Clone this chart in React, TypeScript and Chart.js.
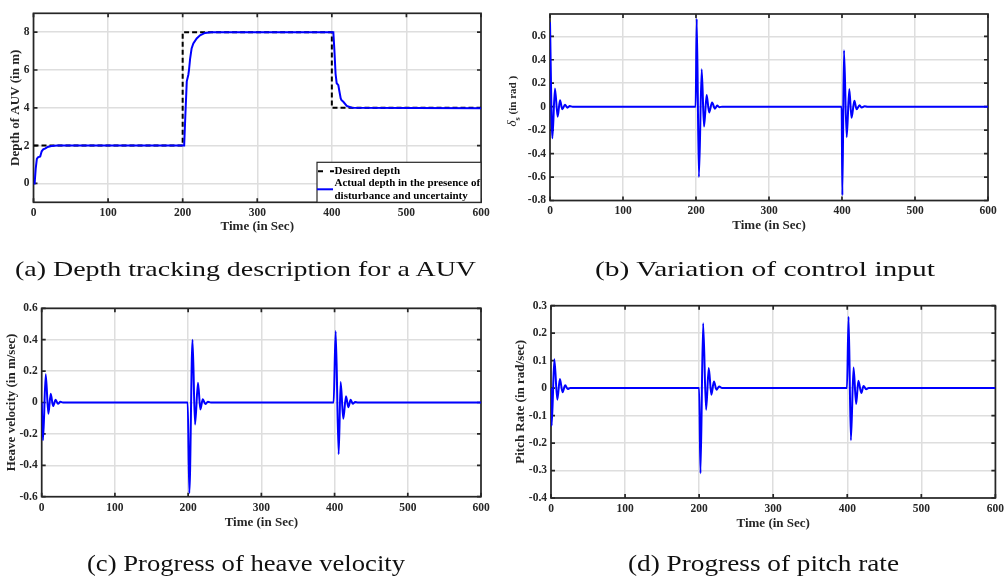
import React, { useEffect, useRef } from 'react';
import { Chart, registerables } from 'chart.js';

Chart.register(...registerables);

// ---------- data ----------
const timeTicks = [0, 100, 200, 300, 400, 500, 600];

const desiredTime = [0, 200, 200, 400, 400, 600];
const desiredDepth = [2, 2, 8, 8, 4, 4];

const actualTime = [0, 1.5, 3, 4.5, 6, 9, 11, 13, 16, 19, 24, 32, 202, 203.5, 205.5, 207.6, 208.5, 210, 212, 214.3, 218.8, 223.3, 230, 238, 402, 403.5, 405, 406.5, 408.7, 410, 411.9, 413, 415.4, 420, 426.7, 600];
const actualDepth = [0, 0, 0.8, 1.3, 1.38, 1.42, 1.7, 1.8, 1.85, 1.93, 1.98, 2.0, 2.0, 3.5, 5.4, 5.75, 6.0, 6.6, 7.14, 7.4, 7.67, 7.84, 7.96, 8.0, 8.0, 7.0, 5.8, 5.3, 5.2, 4.9, 4.5, 4.4, 4.32, 4.1, 4.0, 3.98];
const depthTicks = [0, 2, 4, 6, 8];

const controlTime = [0, 3.2, 6.8, 10.5, 13.7, 16.9, 20.5, 24, 27, 31, 199.5, 201, 204, 207.8, 211, 214.6, 218, 222, 226, 229, 232, 236, 399.5, 400.5, 402.7, 406.4, 410, 413, 417, 420, 424, 427, 431, 435, 600];
const controlInput = [0.72, -0.27, 0.155, -0.086, 0.055, -0.023, 0.017, -0.009, 0.005, 0, 0, 0.75, -0.6, 0.32, -0.17, 0.1, -0.05, 0.035, -0.017, 0.01, -0.004, 0, 0, -0.755, 0.48, -0.26, 0.15, -0.095, 0.05, -0.023, 0.012, -0.008, 0.003, 0, 0];
const controlTicks = [-0.8, -0.6, -0.4, -0.2, 0, 0.2, 0.4, 0.6];

const heaveTime = [0, 1.8, 5.5, 9.1, 12.3, 15.5, 19, 22.3, 25.5, 29, 199.4, 201.6, 206, 209.4, 213.5, 216.7, 220, 223.5, 227, 231, 398.7, 401.5, 405.6, 408.3, 411.9, 415.6, 418.8, 422, 425, 428, 432, 600];
const heaveVelocity = [0, -0.24, 0.18, -0.072, 0.055, -0.023, 0.017, -0.008, 0.004, 0, 0, -0.577, 0.4, -0.14, 0.126, -0.045, 0.02, -0.01, 0.005, 0, 0, 0.455, -0.33, 0.13, -0.104, 0.04, -0.03, 0.017, -0.008, 0.003, 0, 0];
const heaveTicks = [-0.6, -0.4, -0.2, 0, 0.2, 0.4, 0.6];

const pitchTime = [0, 0.9, 4.5, 8.5, 12, 15.6, 19.2, 22.5, 26, 200, 201.8, 205.4, 209.4, 213, 216.5, 220, 223.5, 227, 231, 399.6, 401.8, 404.9, 408.5, 412, 415, 419, 422, 425.5, 429, 600];
const pitchRate = [0, -0.137, 0.105, -0.042, 0.033, -0.015, 0.01, -0.003, 0, 0, -0.31, 0.236, -0.079, 0.073, -0.024, 0.024, -0.006, 0.006, 0, 0, 0.26, -0.19, 0.075, -0.058, 0.027, -0.018, 0.008, -0.004, 0, 0];
const pitchTicks = [-0.4, -0.3, -0.2, -0.1, 0, 0.1, 0.2, 0.3];

const legendLabels = ['Desired depth', 'Actual depth in the presence of', 'disturbance and uncertainty'];
const xTitle = 'Time (in Sec)';
const captions = [
  '(a) Depth tracking description for a AUV',
  '(b) Variation of control input',
  '(c) Progress of heave velocity',
  '(d) Progress of pitch rate',
];

// ---------- styling ----------
const SERIF = "'Liberation Serif', 'Times New Roman', serif";
const INK = '#262626';
const BLUE = '#0000ff';
const GRID = '#dedede';
const TITLE_SIZE = 13;
const HALF_TITLE = (TITLE_SIZE * 1.2) / 2;

const zip = (xs: number[], ys: number[]) => xs.map((x, i) => ({ x, y: ys[i] }));
const fmt = (v: number) => {
  const r = Math.round(v * 10) / 10;
  return String(r === 0 ? 0 : r);
};

const boxPlugin = {
  id: 'matlabBox',
  beforeDatasetsDraw(chart: any) {
    const { ctx, chartArea: a, scales } = chart;
    ctx.save();
    ctx.strokeStyle = INK;
    ctx.lineWidth = 1.7;
    const tl = 4;
    ctx.beginPath();
    scales.x.ticks.forEach((t: any) => {
      const px = scales.x.getPixelForValue(t.value);
      ctx.moveTo(px, a.bottom);
      ctx.lineTo(px, a.bottom - tl);
      ctx.moveTo(px, a.top);
      ctx.lineTo(px, a.top + tl);
    });
    scales.y.ticks.forEach((t: any) => {
      const py = scales.y.getPixelForValue(t.value);
      ctx.moveTo(a.left, py);
      ctx.lineTo(a.left + tl, py);
      ctx.moveTo(a.right, py);
      ctx.lineTo(a.right - tl, py);
    });
    ctx.stroke();
    ctx.strokeRect(a.left, a.top, a.right - a.left, a.bottom - a.top);
    ctx.restore();
  },
};

const legendPlugin = {
  id: 'depthLegend',
  afterDatasetsDraw(chart: any) {
    const { ctx, chartArea: a } = chart;
    const w = 164;
    const h = 40;
    const left = a.right - w;
    const top = a.bottom - h;
    ctx.save();
    ctx.fillStyle = '#ffffff';
    ctx.fillRect(left, top, w, h);
    ctx.strokeStyle = INK;
    ctx.lineWidth = 1.2;
    ctx.strokeRect(left, top, w, h);
    ctx.strokeStyle = '#000';
    ctx.lineWidth = 2;
    ctx.setLineDash([5, 7]);
    ctx.beginPath();
    ctx.moveTo(left + 1, top + 9);
    ctx.lineTo(left + 17, top + 9);
    ctx.stroke();
    ctx.setLineDash([]);
    ctx.strokeStyle = BLUE;
    ctx.beginPath();
    ctx.moveTo(left, top + 27);
    ctx.lineTo(left + 16, top + 27);
    ctx.stroke();
    ctx.fillStyle = '#000';
    ctx.font = `bold 11px ${SERIF}`;
    ctx.textBaseline = 'middle';
    ctx.textAlign = 'left';
    ctx.fillText(legendLabels[0], left + 17.5, top + 9);
    ctx.fillText(legendLabels[1], left + 17.5, top + 21);
    ctx.fillText(legendLabels[2], left + 17.5, top + 33.5);
    ctx.restore();
  },
};

const deltaTitlePlugin = {
  id: 'deltaTitle',
  afterDraw(chart: any) {
    const { ctx, chartArea: a } = chart;
    const cx = a.left - 37;
    const cy = (a.top + a.bottom) / 2 - 6;
    ctx.save();
    ctx.translate(cx, cy);
    ctx.rotate(-Math.PI / 2);
    ctx.fillStyle = INK;
    ctx.textBaseline = 'middle';
    ctx.textAlign = 'left';
    const f1 = `italic 13px ${SERIF}`;
    const f2 = `bold 8px ${SERIF}`;
    const f3 = `bold 11px ${SERIF}`;
    const rest = '(in rad )';
    ctx.font = f1;
    const w1 = ctx.measureText('δ').width;
    ctx.font = f2;
    const w2 = ctx.measureText('s').width;
    ctx.font = f3;
    const w3 = ctx.measureText(rest).width;
    const gap = 3;
    let x = -(w1 + w2 + gap + w3) / 2;
    ctx.font = f1;
    ctx.fillText('δ', x, 0);
    x += w1;
    ctx.font = f2;
    ctx.fillText('s', x, 5);
    x += w2 + gap;
    ctx.font = f3;
    ctx.fillText(rest, x, 0);
    ctx.restore();
  },
};

type Spec = {
  canvas: [number, number, number, number];
  area: [number, number, number, number];
  yTitleX: number;
  xTitleY: number;
  yMin: number;
  yMax: number;
  yTicks: number[];
  yTitle: string | null;
  datasets: any[];
  plugins: any[];
};

function buildConfig(spec: Spec): any {
  const [cl, ct, cw, ch] = spec.canvas;
  const [al, at, ar, ab] = spec.area;
  const padLeft = spec.yTitleX - HALF_TITLE - cl;
  const yW = al - cl - padLeft;
  const padTop = at - ct;
  const padRight = cl + cw - ar;
  const xBottom = spec.xTitleY + HALF_TITLE;
  const xH = xBottom - ab;
  const padBottom = ct + ch - xBottom;
  const tickFont = { family: SERIF, weight: 'bold', size: 11.5 };
  const titleFont = { family: SERIF, weight: 'bold', size: TITLE_SIZE };
  return {
    type: 'line',
    data: { datasets: spec.datasets },
    options: {
      animation: false,
      responsive: false,
      devicePixelRatio: 1,
      layout: { padding: { left: padLeft, top: padTop, right: padRight, bottom: padBottom } },
      plugins: { legend: { display: false }, tooltip: { enabled: false } },
      elements: { point: { radius: 0 } },
      scales: {
        x: {
          type: 'linear',
          min: 0,
          max: 600,
          afterBuildTicks: (s: any) => {
            s.ticks = timeTicks.map((v) => ({ value: v }));
          },
          afterFit: (s: any) => {
            s.height = xH;
          },
          grid: { color: GRID, lineWidth: 1.5, drawTicks: false },
          border: { display: false },
          ticks: { font: tickFont, color: INK, padding: 4, maxRotation: 0, autoSkip: false, callback: (v: number) => String(v) },
          title: { display: true, text: xTitle, font: titleFont, color: INK, padding: 0 },
        },
        y: {
          type: 'linear',
          min: spec.yMin,
          max: spec.yMax,
          afterBuildTicks: (s: any) => {
            s.ticks = spec.yTicks.map((v) => ({ value: v }));
          },
          afterFit: (s: any) => {
            s.width = yW;
          },
          grid: { color: GRID, lineWidth: 1.5, drawTicks: false },
          border: { display: false },
          ticks: { font: tickFont, color: INK, padding: 4, autoSkip: false, callback: (v: number) => fmt(v) },
          title: { display: !!spec.yTitle, text: spec.yTitle || '', font: titleFont, color: INK, padding: 0 },
        },
      },
    },
    plugins: [boxPlugin, ...spec.plugins],
  };
}

const blueLine = (xs: number[], ys: number[], smooth: boolean) => ({
  data: zip(xs, ys),
  borderColor: BLUE,
  borderWidth: 2,
  pointRadius: 0,
  fill: false,
  tension: 0,
  cubicInterpolationMode: smooth ? 'monotone' : 'default',
});

const specs: Spec[] = [
  {
    canvas: [0, 0, 500, 245],
    area: [33.5, 13.3, 481, 202.3],
    yTitleX: 16,
    xTitleY: 227,
    yMin: -1,
    yMax: 9,
    yTicks: depthTicks,
    yTitle: 'Depth of AUV (in m)',
    datasets: [
      blueLine(actualTime, actualDepth, false),
      {
        data: zip(desiredTime, desiredDepth),
        borderColor: '#000',
        borderWidth: 2,
        borderDash: [5, 3],
        pointRadius: 0,
        fill: false,
        tension: 0,
      },
    ],
    plugins: [legendPlugin],
  },
  {
    canvas: [500, 0, 508, 245],
    area: [550, 14, 988, 200.5],
    yTitleX: 513,
    xTitleY: 226,
    yMin: -0.8,
    yMax: 0.79,
    yTicks: controlTicks,
    yTitle: null,
    datasets: [blueLine(controlTime, controlInput, true)],
    plugins: [deltaTitlePlugin],
  },
  {
    canvas: [0, 290, 500, 287],
    area: [41.7, 308.3, 481, 496.7],
    yTitleX: 12,
    xTitleY: 523,
    yMin: -0.6,
    yMax: 0.6,
    yTicks: heaveTicks,
    yTitle: 'Heave velocity (in m/sec)',
    datasets: [blueLine(heaveTime, heaveVelocity, true)],
    plugins: [],
  },
  {
    canvas: [500, 290, 508, 287],
    area: [551, 305.7, 999, 498],
    yTitleX: 521,
    xTitleY: 524,
    yMin: -0.4,
    yMax: 0.3,
    yTicks: pitchTicks,
    yTitle: 'Pitch Rate (in rad/sec)',
    datasets: [blueLine(pitchTime, pitchRate, true)],
    plugins: [],
  },
];

function Panel({ spec }: { spec: Spec }) {
  const ref = useRef<HTMLCanvasElement | null>(null);
  useEffect(() => {
    if (!ref.current) return;
    const chart = new Chart(ref.current, buildConfig(spec));
    return () => chart.destroy();
  }, [spec]);
  const [l, t, w, h] = spec.canvas;
  return (
    <canvas
      ref={ref}
      width={w}
      height={h}
      style={{ position: 'absolute', left: l, top: t, width: w, height: h }}
    />
  );
}

// caption placement: [x start, x end, baseline, font size]
const captionBoxes: [number, number, number, number][] = [
  [15, 476, 276, 21],
  [595, 935, 276, 21],
  [87, 405, 571, 23],
  [628, 899, 571, 23],
];

export default function App() {
  return (
    <div style={{ position: 'absolute', left: 0, top: 0, width: 1008, height: 577, overflow: 'hidden', background: '#fff' }}>
      {specs.map((s, i) => (
        <Panel key={i} spec={s} />
      ))}
      <svg width={1008} height={577} style={{ position: 'absolute', left: 0, top: 0, pointerEvents: 'none' }}>
        {captions.map((c, i) => {
          const [x0, x1, base, size] = captionBoxes[i];
          return (
            <text
              key={i}
              x={x0}
              y={base}
              textLength={x1 - x0}
              lengthAdjust="spacingAndGlyphs"
              fontFamily={SERIF}
              fontSize={size}
              fill="#111"
            >
              {c}
            </text>
          );
        })}
      </svg>
    </div>
  );
}
